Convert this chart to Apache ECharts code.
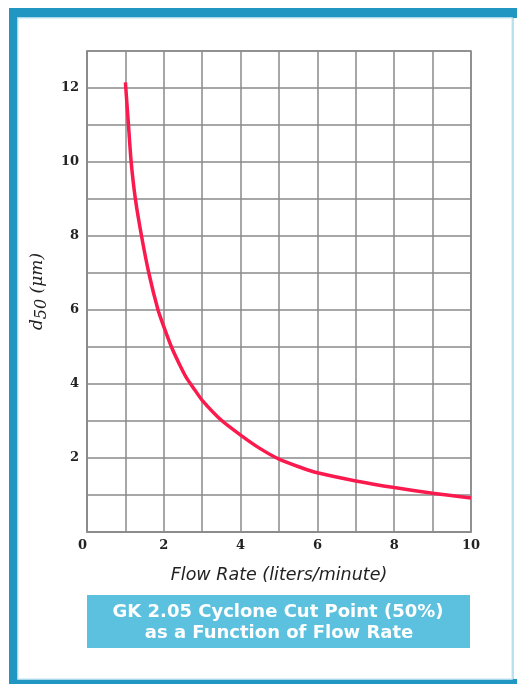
<!DOCTYPE html>
<html>
<head>
<meta charset="utf-8">
<script src="https://cdn.jsdelivr.net/npm/echarts@6/dist/echarts.min.js"></script>
<style>
html,body{margin:0;padding:0;background:#fff;}
#c{width:517px;height:684px;}
</style>
</head>
<body>
<div id="c"></div>
<script>
// Flow rate (liters/minute)
var flowRate = [1.0, 1.08, 1.15, 1.26, 1.42, 1.61, 1.85, 2.0, 2.2, 2.4, 2.6, 2.8, 3.0, 3.5, 4.0, 4.5, 5.0, 5.55, 6.0, 7.0, 8.0, 9.0, 10.0];
// d50 (um)
var d50 = [12.15, 11.0, 10.0, 9.0, 8.0, 7.0, 6.0, 5.55, 5.0, 4.55, 4.15, 3.85, 3.56, 3.02, 2.62, 2.26, 1.97, 1.75, 1.6, 1.38, 1.2, 1.05, 0.92];
var xTickLabels = ['0', '2', '4', '6', '8', '10'];
var yTickLabels = ['2', '4', '6', '8', '10', '12'];
var titleLines = ['GK 2.05 Cyclone Cut Point (50%)', 'as a Function of Flow Rate'];

var points = flowRate.map(function (x, i) { return [x, d50[i]]; });
var chart = echarts.init(document.getElementById('c'), null, {renderer: 'canvas'});
var gridColor = '#8a8a8a';
var tickFont = {fontFamily: 'DejaVu Serif', fontSize: 13, color: '#222', fontWeight: 'bold'};

chart.setOption({
  animation: false,
  backgroundColor: '#ffffff',
  grid: {left: 87, top: 51, width: 384, height: 481, show: true, borderColor: gridColor, borderWidth: 1.5},
  xAxis: {
    type: 'value', min: 0, max: 10, interval: 1,
    name: 'Flow Rate (liters/minute)', nameLocation: 'middle', nameGap: 34,
    nameTextStyle: {fontFamily: 'DejaVu Sans', fontStyle: 'italic', fontSize: 17.5, color: '#222'},
    axisLine: {show: true, lineStyle: {color: gridColor, width: 1.5}},
    axisTick: {show: false},
    splitLine: {show: true, lineStyle: {color: gridColor, width: 1.5}},
    axisLabel: Object.assign({margin: 7, alignMinLabel: 'right', formatter: function (v) {
      var s = String(v); return xTickLabels.indexOf(s) >= 0 ? s : '';
    }}, tickFont)
  },
  yAxis: {
    type: 'value', min: 0, max: 13, interval: 1,
    name: '{i|d}{sub|50}{i| (μm)}', nameLocation: 'middle', nameGap: 24, nameRotate: 90,
    nameTextStyle: {
      color: '#222',
      rich: {
        i: {fontFamily: 'DejaVu Serif', fontStyle: 'italic', fontSize: 17, color: '#222', lineHeight: 24, verticalAlign: 'middle'},
        sub: {fontFamily: 'DejaVu Serif', fontStyle: 'italic', fontSize: 16, color: '#222', lineHeight: 24, verticalAlign: 'bottom', padding: [8, 0, 0, 0]}
      }
    },
    axisLine: {show: true, lineStyle: {color: gridColor, width: 1.5}},
    axisTick: {show: false},
    splitLine: {show: true, lineStyle: {color: gridColor, width: 1.5}},
    axisLabel: Object.assign({margin: 8, formatter: function (v) {
      var s = String(v); return yTickLabels.indexOf(s) >= 0 ? s : '';
    }}, tickFont)
  },
  series: [{
    type: 'line',
    data: points,
    smooth: 0.2,
    showSymbol: false,
    lineStyle: {color: '#fb1a4e', width: 3.5},
    z: 5
  }],
  graphic: [
    {type: 'rect', shape: {x: 9, y: 8, width: 508, height: 10}, style: {fill: '#2196c3'}, silent: true},
    {type: 'rect', shape: {x: 9, y: 8, width: 9, height: 676}, style: {fill: '#2196c3'}, silent: true},
    {type: 'rect', shape: {x: 9, y: 679, width: 508, height: 5}, style: {fill: '#2196c3'}, silent: true},
    {type: 'rect', shape: {x: 18, y: 18, width: 494, height: 661}, style: {fill: 'none', stroke: '#d6eef7', lineWidth: 1.5}, silent: true},
    {type: 'rect', shape: {x: 512, y: 18, width: 2, height: 661}, style: {fill: '#b9e0ee'}, silent: true},
    {type: 'rect', shape: {x: 87, y: 595, width: 383, height: 53}, style: {fill: '#5cc1df'}, silent: true},
    {type: 'text', x: 278, y: 612, style: {text: titleLines[0], fill: '#ffffff', font: 'bold 18px "DejaVu Sans"', textAlign: 'center', textVerticalAlign: 'middle'}, silent: true},
    {type: 'text', x: 279, y: 633, style: {text: titleLines[1], fill: '#ffffff', font: 'bold 18px "DejaVu Sans"', textAlign: 'center', textVerticalAlign: 'middle'}, silent: true}
  ]
});
</script>
</body>
</html>
